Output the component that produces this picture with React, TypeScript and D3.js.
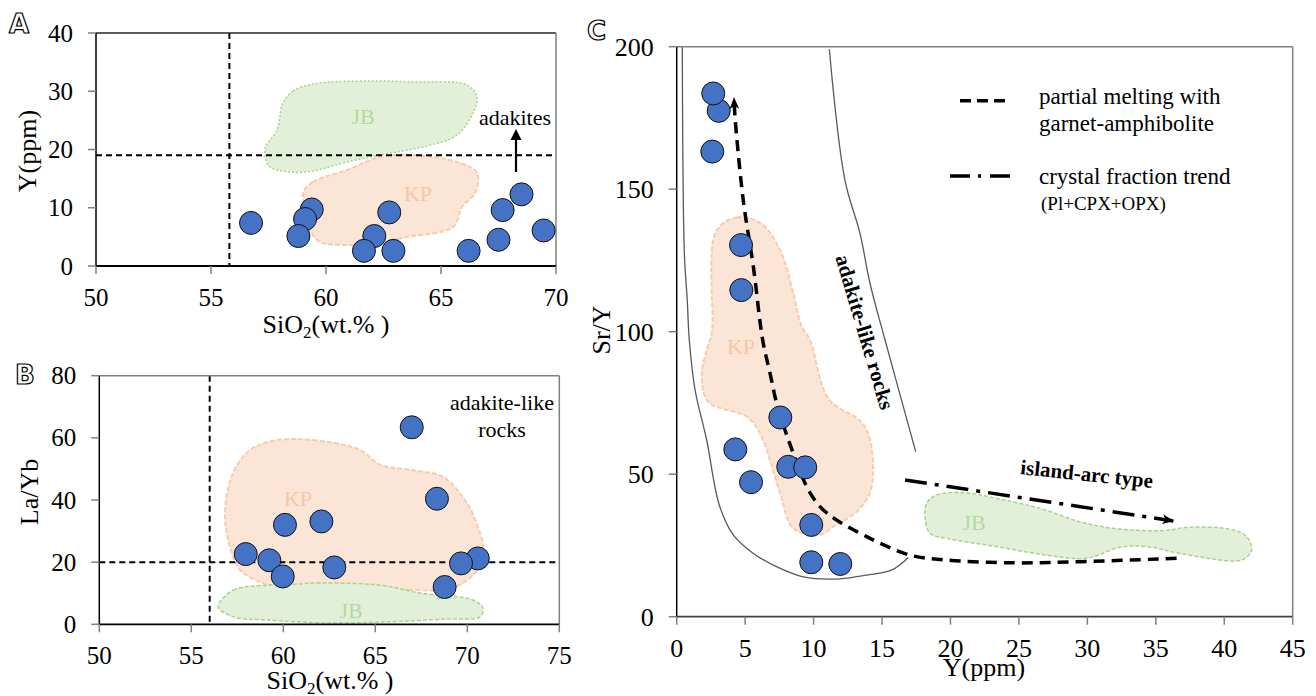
import React from 'react';
import * as d3 from 'd3';

const SERIF = "'Liberation Serif','Times New Roman',Times,serif";
type P = [number, number];

// ---------------- Panel A : Y (ppm) vs SiO2 ----------------
const aXTicks = [50, 55, 60, 65, 70];
const aYTicks = [0, 10, 20, 30, 40];
const aSamples: P[] = [
  [59.38, 9.7], [59.09, 8.07], [58.8, 5.15], [56.74, 7.4], [62.1, 5.15], [61.65, 2.6],
  [62.75, 9.2], [62.93, 2.6], [66.2, 2.6], [67.5, 4.5], [68.5, 12.3], [67.68, 9.6], [69.46, 6.1],
];
const aSiO2Limit = 55.8;
const aYLimit = 19;
const aJB: P[] = [
  [58.13, 27.98], [58.57, 30.04], [59.43, 31.24], [62.04, 31.76], [63.78, 31.59], [66.13, 31.07],
  [66.57, 29.01], [66.39, 26.27], [65.7, 22.49], [64.39, 20.6], [62.35, 19.06], [60.91, 17.85],
  [59.43, 16.31], [58.43, 16.14], [57.52, 17.17], [57.35, 20.09], [57.87, 23.35],
];
const aKP: P[] = [
  [59.0, 12.53], [59.43, 14.42], [60.91, 16.48], [62.35, 18.71], [63.78, 19.06], [65.7, 17.85],
  [66.57, 15.97], [66.48, 12.53], [65.91, 10.13], [65.52, 6.7], [63.52, 4.98], [62.35, 3.95],
  [60.91, 3.61], [59.74, 4.12], [59.3, 6.18], [59.09, 10.13],
];

// ---------------- Panel B : La/Yb vs SiO2 ----------------
const bXTicks = [50, 55, 60, 65, 70, 75];
const bYTicks = [0, 20, 40, 60, 80];
const bSamples: P[] = [
  [57.96, 22.6], [59.24, 20.6], [59.97, 15.4], [60.09, 32.0], [62.07, 33.1], [62.77, 18.3],
  [66.98, 63.4], [68.35, 40.4], [70.57, 21.2], [69.66, 19.6], [68.77, 12.0],
];
const bSiO2Limit = 56;
const bLaYbLimit = 20;
const bKP: P[] = [
  [59.46, 59.07], [61.61, 59.3], [64.17, 56.1], [65.26, 51.3], [67.05, 49.6], [68.68, 47.4],
  [69.98, 39.0], [70.69, 29.4], [70.85, 24.9], [70.53, 17.5], [69.22, 11.7], [67.05, 11.0],
  [63.46, 12.0], [59.82, 12.0], [58.73, 13.6], [57.65, 17.5], [57.1, 24.9], [56.83, 35.8],
  [57.27, 48.7], [58.19, 56.1],
];
const bJB: P[] = [
  [56.47, 5.66], [57.28, 11.0], [59.1, 12.6], [60.91, 13.0], [61.61, 13.3], [65.26, 12.6],
  [67.43, 10.1], [70.31, 7.8], [70.85, 5.2], [70.69, 2.4], [68.89, 1.7], [65.26, 0.7],
  [62.54, 0.4], [59.1, 1.4], [57.28, 2.4],
];

// ---------------- Panel C : Sr/Y vs Y ----------------
const cXTicks = [0, 5, 10, 15, 20, 25, 30, 35, 40, 45];
const cYTicks = [0, 50, 100, 150, 200];
const cSamples: P[] = [
  [3.07, 177.5], [2.67, 183.6], [2.6, 163.2], [4.7, 130.4], [4.72, 114.6], [7.57, 69.9],
  [4.28, 58.7], [5.43, 47.2], [8.15, 52.6], [9.39, 52.4], [9.83, 32.2], [9.83, 19.1], [11.95, 18.5],
];
const cKP: P[] = [
  [2.87, 135.1], [4.38, 140.1], [6.21, 137.8], [7.55, 128.7], [8.52, 113.5], [9.13, 101.8],
  [9.74, 97.1], [11.07, 76.6], [13.75, 66.7], [14.24, 45.6], [13.27, 37.4], [11.44, 31.6],
  [10.47, 28.7], [8.52, 31.0], [7.55, 43.3], [6.08, 64.4], [5.11, 70.2], [2.31, 75.4],
  [1.83, 84.2], [2.19, 93.6], [2.56, 99.4],
];
const cJB: P[] = [
  [18.26, 39.8], [18.99, 42.7], [20.94, 43.5], [23.37, 41.5], [26.54, 38.0], [29.46, 33.3],
  [31.89, 31.0], [35.54, 30.2], [37.49, 31.4], [40.41, 30.7], [41.64, 28.1], [42.0, 23.4],
  [41.39, 20.1], [40.41, 19.6], [36.76, 22.2], [34.33, 24.6], [32.38, 24.4], [29.95, 20.5],
  [27.03, 21.6], [23.37, 24.6], [19.72, 27.5], [18.5, 29.3], [18.14, 35.1],
];
const cAdakiteLower: P[] = [
  [0.41, 200], [0.56, 127.5], [0.77, 111.1], [0.92, 97.1], [1.34, 79.6], [2.19, 62.0],
  [3.11, 39.2], [4.13, 28.7], [5.6, 22.2], [7.06, 18.1], [9.25, 14.0], [11.93, 13.3],
  [13.88, 14.6], [15.71, 16.4], [16.92, 20.8],
];
const cAdakiteUpper: P[] = [
  [11.15, 199.1], [12.29, 153.2], [13.39, 134.5], [14.12, 117.0], [15.22, 97.1], [17.46, 57.9],
];
const cMeltTrend: P[] = [
  [36.52, 20.5], [29.46, 19.3], [24.59, 18.9], [19.72, 19.9], [17.04, 21.6], [14.85, 25.8],
  [13.88, 28.1], [11.69, 33.9], [10.47, 38.6], [9.5, 45.6], [8.52, 57.3], [7.91, 65.5],
  [7.3, 74.9], [6.82, 85.4], [6.28, 97.1], [5.6, 122.8], [4.86, 146.2], [4.26, 175.4], [4.19, 181.9],
];
const cFractionTrend: P[] = [[16.68, 48.0], [36.27, 33.6]];

// ---------------- scales ----------------
const axA = d3.scaleLinear().domain([50, 70]).range([96, 556]);
const ayA = d3.scaleLinear().domain([0, 40]).range([266, 33]);
const axB = d3.scaleLinear().domain([50, 75]).range([99.3, 559.3]);
const ayB = d3.scaleLinear().domain([0, 80]).range([624.3, 375.7]);
const axC = d3.scaleLinear().domain([0, 45]).range([676.7, 1292.7]);
const ayC = d3.scaleLinear().domain([0, 200]).range([616.7, 46.7]);

const JB_FILL = '#e2f0d9';
const JB_STROKE = '#a9d18e';
const JB_TEXT = '#b4d9a0';
const KP_FILL = '#fbe5d6';
const KP_STROKE = '#f8cbad';
const KP_TEXT = '#f7c6a5';
const DOT_FILL = '#4472c4';

type Lin = d3.ScaleLinear<number, number>;

function regionPath(pts: P[], x: Lin, y: Lin) {
  return d3.line<P>().x(d => x(d[0])).y(d => y(d[1])).curve(d3.curveCatmullRomClosed.alpha(0.5))(pts) || '';
}
function curvePath(pts: P[], x: Lin, y: Lin) {
  return d3.line<P>().x(d => x(d[0])).y(d => y(d[1])).curve(d3.curveCatmullRom.alpha(0.5))(pts) || '';
}

function Frame({ x, y, xTicks, yTicks, fs, topColor, bottomColor }: { x: Lin; y: Lin; xTicks: number[]; yTicks: number[]; fs: number; topColor: string; bottomColor: string }) {
  const [x0, x1] = x.range();
  const [y0, y1] = y.range();
  return (
    <g>
      <line x1={x0} x2={x1} y1={y1} y2={y1} stroke={topColor} strokeWidth={1.5} />
      <line x1={x1} x2={x1} y1={y1} y2={y0} stroke="#808080" strokeWidth={1.5} />
      <line x1={x0} x2={x1} y1={y0} y2={y0} stroke={bottomColor} strokeWidth={1.8} />
      <line x1={x0} x2={x0} y1={y1} y2={y0} stroke="#000" strokeWidth={1.5} />
      {yTicks.map(t => (
        <g key={'y' + t}>
          <line x1={x0 - 8} x2={x0} y1={y(t)} y2={y(t)} stroke="#7f7f7f" strokeWidth={1.5} />
          <text x={x0 - 23} y={y(t) + fs * 0.34} textAnchor="end" fontSize={fs} fontFamily={SERIF} fill="#000">{t}</text>
        </g>
      ))}
      {xTicks.map(t => (
        <g key={'x' + t}>
          <line x1={x(t)} x2={x(t)} y1={y0} y2={y0 + 8} stroke="#7f7f7f" strokeWidth={1.5} />
          <text x={x(t)} y={y0 + 40} textAnchor="middle" fontSize={fs} fontFamily={SERIF} fill="#000">{t}</text>
        </g>
      ))}
    </g>
  );
}

function Dots({ pts, x, y }: { pts: P[]; x: Lin; y: Lin }) {
  return (
    <g>
      {pts.map((d, i) => (
        <circle key={i} cx={x(d[0])} cy={y(d[1])} r={11.5} fill={DOT_FILL} stroke="#111" strokeWidth={1} />
      ))}
    </g>
  );
}

function PanelLetter({ x, y, ch }: { x: number; y: number; ch: string }) {
  return (
    <text x={x} y={y} fontSize={26} fontFamily="'DejaVu Sans',sans-serif" fontWeight="bold" fill="#fff" stroke="#000" strokeWidth={1.2}>{ch}</text>
  );
}

function SiO2Title({ cx, y }: { cx: number; y: number }) {
  return (
    <text x={cx} y={y} textAnchor="middle" fontSize={26} fontFamily={SERIF} fill="#000">
      SiO<tspan fontSize={17} dy={5}>2</tspan><tspan dy={-5}>(wt.% )</tspan>
    </text>
  );
}

export default function App() {
  return (
    <svg width={1316} height={696} style={{ position: 'absolute', left: 0, top: 0, background: '#fff' }}>
      <defs>
        <marker id="arrowHead" viewBox="0 0 12 10" refX={11} refY={5} markerWidth={12} markerHeight={10} markerUnits="userSpaceOnUse" orient="auto">
          <path d="M0,0 L12,5 L0,10 L3.5,5 Z" fill="#000" />
        </marker>
      </defs>
      <rect x={0} y={0} width={1316} height={696} fill="#fff" />

      {/* ===== Panel A ===== */}
      <PanelLetter x={9} y={33} ch="A" />
      <path d={regionPath(aJB, axA, ayA)} fill={JB_FILL} stroke={JB_STROKE} strokeWidth={1.5} strokeDasharray="2,2" />
      <path d={regionPath(aKP, axA, ayA)} fill={KP_FILL} stroke={KP_STROKE} strokeWidth={2} strokeDasharray="5,2" />
      <text x={363} y={124} textAnchor="middle" fontSize={22} fontFamily={SERIF} fill={JB_TEXT}>JB</text>
      <text x={418} y={201} textAnchor="middle" fontSize={22} fontFamily={SERIF} fill={KP_TEXT}>KP</text>
      <line x1={axA(aSiO2Limit)} x2={axA(aSiO2Limit)} y1={ayA(40)} y2={ayA(0)} stroke="#000" strokeWidth={2} strokeDasharray="6,4" />
      <line x1={axA(50)} x2={axA(70)} y1={ayA(aYLimit)} y2={ayA(aYLimit)} stroke="#000" strokeWidth={2} strokeDasharray="6,4" />
      <Frame x={axA} y={ayA} xTicks={aXTicks} yTicks={aYTicks} fs={25} topColor="#262626" bottomColor="#000" />
      <Dots pts={aSamples} x={axA} y={ayA} />
      <text x={515} y={125} textAnchor="middle" fontSize={22} fontFamily={SERIF} fill="#000">adakites</text>
      <line x1={516} x2={516} y1={172} y2={137} stroke="#000" strokeWidth={2.2} />
      <path d="M516,129 L510.5,140 L521.5,140 Z" fill="#000" />
      <text transform="translate(36,151) rotate(-90)" textAnchor="middle" fontSize={26} fontFamily={SERIF} fill="#000">Y(ppm)</text>
      <SiO2Title cx={326} y={333} />

      {/* ===== Panel B ===== */}
      <PanelLetter x={15} y={384} ch="B" />
      <path d={regionPath(bKP, axB, ayB)} fill={KP_FILL} stroke={KP_STROKE} strokeWidth={2} strokeDasharray="5,2" />
      <path d={regionPath(bJB, axB, ayB)} fill={JB_FILL} stroke={JB_STROKE} strokeWidth={1.5} strokeDasharray="4,2" />
      <text x={298} y={506} textAnchor="middle" fontSize={22} fontFamily={SERIF} fill={KP_TEXT}>KP</text>
      <text x={351} y={618} textAnchor="middle" fontSize={22} fontFamily={SERIF} fill={JB_TEXT}>JB</text>
      <line x1={axB(bSiO2Limit)} x2={axB(bSiO2Limit)} y1={ayB(80)} y2={ayB(0)} stroke="#000" strokeWidth={2} strokeDasharray="6,4" />
      <line x1={axB(50)} x2={axB(75)} y1={ayB(bLaYbLimit)} y2={ayB(bLaYbLimit)} stroke="#000" strokeWidth={2} strokeDasharray="6,4" />
      <Frame x={axB} y={ayB} xTicks={bXTicks} yTicks={bYTicks} fs={25} topColor="#808080" bottomColor="#000" />
      <Dots pts={bSamples} x={axB} y={ayB} />
      <text x={502} y={410} textAnchor="middle" fontSize={22} fontFamily={SERIF} fill="#000">adakite-like</text>
      <text x={502} y={437} textAnchor="middle" fontSize={22} fontFamily={SERIF} fill="#000">rocks</text>
      <text transform="translate(38,492) rotate(-90)" textAnchor="middle" fontSize={26} fontFamily={SERIF} fill="#000">La/Yb</text>
      <SiO2Title cx={330} y={689} />

      {/* ===== Panel C ===== */}
      <PanelLetter x={587} y={40} ch="C" />
      <path d={regionPath(cKP, axC, ayC)} fill={KP_FILL} stroke={KP_STROKE} strokeWidth={2} strokeDasharray="5,2" />
      <path d={regionPath(cJB, axC, ayC)} fill={JB_FILL} stroke={JB_STROKE} strokeWidth={1.5} strokeDasharray="4,2" />
      <text x={741} y={354} textAnchor="middle" fontSize={22} fontFamily={SERIF} fill={KP_TEXT}>KP</text>
      <text x={974} y={530} textAnchor="middle" fontSize={22} fontFamily={SERIF} fill={JB_TEXT}>JB</text>
      <path d={curvePath(cAdakiteLower, axC, ayC)} fill="none" stroke="#595959" strokeWidth={1.3} />
      <path d={curvePath(cAdakiteUpper, axC, ayC)} fill="none" stroke="#595959" strokeWidth={1.3} />
      <path d={curvePath(cMeltTrend, axC, ayC)} fill="none" stroke="#000" strokeWidth={3.5} strokeDasharray="11,7" markerEnd="url(#arrowHead)" />
      <path d={curvePath(cFractionTrend, axC, ayC)} fill="none" stroke="#000" strokeWidth={3.5} strokeDasharray="22,8,4,8" markerEnd="url(#arrowHead)" />
      <Frame x={axC} y={ayC} xTicks={cXTicks} yTicks={cYTicks} fs={26} topColor="#808080" bottomColor="#404040" />
      <Dots pts={cSamples} x={axC} y={ayC} />
      <text transform="translate(858,334) rotate(73.5)" textAnchor="middle" fontSize={21} fontWeight="bold" fontFamily={SERIF} fill="#000">adakite-like rocks</text>
      <text transform="translate(1086,481) rotate(6)" textAnchor="middle" fontSize={21} fontWeight="bold" fontFamily={SERIF} fill="#000">island-arc type</text>

      {/* legend */}
      <line x1={960} x2={1005} y1={100.7} y2={100.7} stroke="#000" strokeWidth={3.5} strokeDasharray="11,6" />
      <text x={1039} y={104} fontSize={23} fontFamily={SERIF} fill="#000">partial melting with</text>
      <text x={1039} y={131} fontSize={23} fontFamily={SERIF} fill="#000">garnet-amphibolite</text>
      <line x1={950} x2={1010} y1={176} y2={176} stroke="#000" strokeWidth={3.5} strokeDasharray="20,8,3,9" />
      <text x={1039} y={184} fontSize={23} fontFamily={SERIF} fill="#000">crystal fraction trend</text>
      <text x={1041} y={210} fontSize={19} fontFamily={SERIF} fill="#000">(Pl+CPX+OPX)</text>

      <text transform="translate(610,330) rotate(-90)" textAnchor="middle" fontSize={26} fontFamily={SERIF} fill="#000">Sr/Y</text>
      <text x={984} y={676} textAnchor="middle" fontSize={26} fontFamily={SERIF} fill="#000">Y(ppm)</text>
    </svg>
  );
}
